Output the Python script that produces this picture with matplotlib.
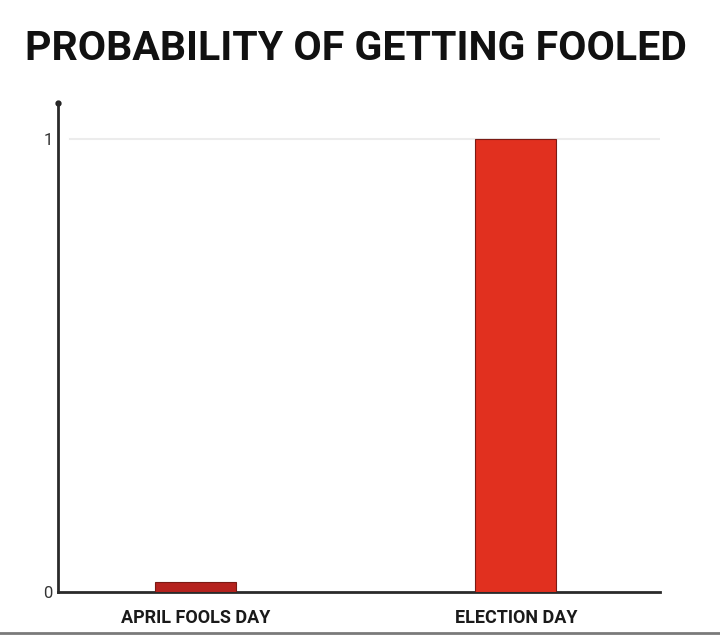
import matplotlib
matplotlib.use("Agg")
import matplotlib.pyplot as plt
from matplotlib.lines import Line2D

# chart data
categories = ["APRIL FOOLS DAY", "ELECTION DAY"]
probabilities = [0.022, 1.0]
bar_colors = ["#b5221e", "#e1301f"]
ytick_values = [0, 1]
ytick_labels = ["0", "1"]
title = "PROBABILITY OF GETTING FOOLED"

font = ["Roboto", "DejaVu Sans"]

fig = plt.figure(figsize=(7.2, 6.37), dpi=100)
ax = fig.add_axes([58 / 720, 45 / 637, 602 / 720, 489 / 637])

pos = list(range(len(categories)))
ax.bar(pos, probabilities, width=0.253, color=bar_colors,
       edgecolor="#7a1a14", linewidth=0.8, zorder=3)

ax.set_xlim(-0.43, 1.45)
ax.set_ylim(0, 1.08)

# faint gridline at 1
ax.axhline(1, xmin=0.02, xmax=1.01, color="#ececec", lw=1.5, zorder=1)

for s in ["top", "right"]:
    ax.spines[s].set_visible(False)
for s in ["left", "bottom"]:
    ax.spines[s].set_linewidth(2)
    ax.spines[s].set_color("#2a2a2a")

# dot on top of y axis
ax.plot([0], [1.08], marker="o", ms=3.5, color="#222222",
        transform=ax.get_yaxis_transform(), clip_on=False)

ax.set_yticks(ytick_values)
ax.set_yticklabels(ytick_labels, family=font, fontsize=12, color="#333333")
ax.tick_params(axis="y", length=0, pad=4)

ax.set_xticks(pos)
ax.set_xticklabels(categories, family=font, fontsize=13, fontweight="bold",
                   color="#1a1a1a")
ax.tick_params(axis="x", length=0, pad=12)

fig.text(0.495, 1 - 60 / 637, title, ha="center", va="baseline",
         family=font, fontsize=29.5, fontweight="bold", color="#111111")

# gray line at bottom edge
fig.add_artist(Line2D([0, 1], [4 / 637, 4 / 637], color="#7a7a7a", lw=2,
                      transform=fig.transFigure))

fig.savefig("out.png", dpi=100)
